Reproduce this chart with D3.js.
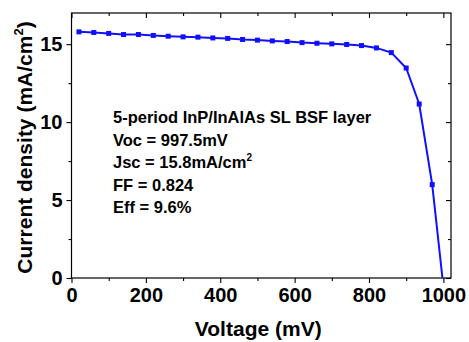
<!DOCTYPE html>
<html><head><meta charset="utf-8">
<script src="https://cdn.jsdelivr.net/npm/d3@7"></script>
<style>body{margin:0;background:#fff}svg text{font-family:"Liberation Sans",Arial,sans-serif;font-weight:bold}</style>
</head><body><svg id="c" width="469" height="342"></svg>
<script>
const voltage = [20,60,100,140,180,220,260,300,340,380,420,460,500,540,580,620,660,700,740,780,820,860,900,935,970,997.5];
const current = [15.79,15.75,15.69,15.62,15.62,15.56,15.51,15.47,15.45,15.40,15.37,15.30,15.26,15.21,15.17,15.10,15.06,15.02,14.98,14.91,14.76,14.46,13.47,11.16,5.99,0];
const xTicks = [0,200,400,600,800,1000];
const yTicks = [0,5,10,15];
const annot = ["5-period InP/InAlAs SL BSF layer","Voc = 997.5mV","Jsc = 15.8mA/cm","FF = 0.824","Eff = 9.6%"];

const svg = d3.select("#c");
const L=71.5, R=451, T=13, B=278;
const x = d3.scaleLinear().domain([0,1020.5]).range([L,R]);
const y = d3.scaleLinear().domain([0,17]).range([B,T]);

svg.append("rect").attr("x",L).attr("y",T).attr("width",R-L).attr("height",B-T)
  .attr("fill","none").attr("stroke","#000").attr("stroke-width",1.2);

const xMinor = d3.range(100,1001,200);
const yMinor = [2.5,7.5,12.5];
const gx = svg.append("g").attr("transform",`translate(0,${B})`)
  .call(d3.axisBottom(x).tickValues(xTicks).tickSize(5).tickPadding(5).tickFormat(d3.format("d")));
gx.select(".domain").remove();
gx.selectAll("text").attr("font-size",20).attr("fill","#000").attr("font-family","Liberation Sans, Arial").attr("font-weight","bold");
svg.append("g").attr("transform",`translate(0,${B})`)
  .call(d3.axisBottom(x).tickValues(xMinor).tickSize(3).tickFormat(""))
  .select(".domain").remove();
svg.append("g").attr("transform",`translate(0,${T})`)
  .call(d3.axisTop(x).tickValues(xTicks).tickSize(-5).tickFormat("")).select(".domain").remove();
svg.append("g").attr("transform",`translate(0,${T})`)
  .call(d3.axisTop(x).tickValues(xMinor).tickSize(-3).tickFormat("")).select(".domain").remove();
const gy = svg.append("g").attr("transform",`translate(${L},0)`)
  .call(d3.axisLeft(y).tickValues(yTicks).tickSize(5).tickPadding(4));
gy.select(".domain").remove();
gy.selectAll("text").attr("font-size",20).attr("fill","#000").attr("font-family","Liberation Sans, Arial").attr("font-weight","bold");
svg.append("g").attr("transform",`translate(${L},0)`)
  .call(d3.axisLeft(y).tickValues(yMinor).tickSize(3).tickFormat("")).select(".domain").remove();
svg.append("g").attr("transform",`translate(${R},0)`)
  .call(d3.axisRight(y).tickValues(yTicks).tickSize(-5).tickFormat("")).select(".domain").remove();
svg.append("g").attr("transform",`translate(${R},0)`)
  .call(d3.axisRight(y).tickValues(yMinor).tickSize(-3).tickFormat("")).select(".domain").remove();
svg.selectAll(".tick line").attr("stroke","#000").attr("stroke-width",1.1);

const pts = voltage.map((v,i)=>({v,c:current[i]}));
svg.append("path").datum(pts).attr("fill","none").attr("stroke","#1010ff").attr("stroke-width",2)
  .attr("d", d3.line().x(d=>x(d.v)).y(d=>y(d.c)));
svg.selectAll("rect.m").data(pts.slice(0,-1)).join("rect").attr("class","m")
  .attr("x",d=>x(d.v)-2.5).attr("y",d=>y(d.c)-2.5).attr("width",5).attr("height",5).attr("fill","#1010ff");

const ay0 = 123, dy = 22.6;
annot.forEach((t,i)=>{
  const tx = svg.append("text").attr("x",113).attr("y",ay0+i*dy).attr("font-size",16.5).attr("fill","#000").text(t);
  if(i===2) tx.append("tspan").attr("font-size",10).attr("dy",-7).text("2");
});

svg.append("text").attr("x",(L+R)/2 - 3).attr("y",336).attr("text-anchor","middle").attr("font-size",21).text("Voltage (mV)");
const yl = svg.append("text").attr("transform",`translate(32,${(T+B)/2 + 2}) rotate(-90)`).attr("text-anchor","middle").attr("font-size",21).text("Current density (mA/cm");
yl.append("tspan").attr("font-size",13).attr("dy",-9).text("2");
yl.append("tspan").attr("dy",9).text(")");
</script></body></html>
